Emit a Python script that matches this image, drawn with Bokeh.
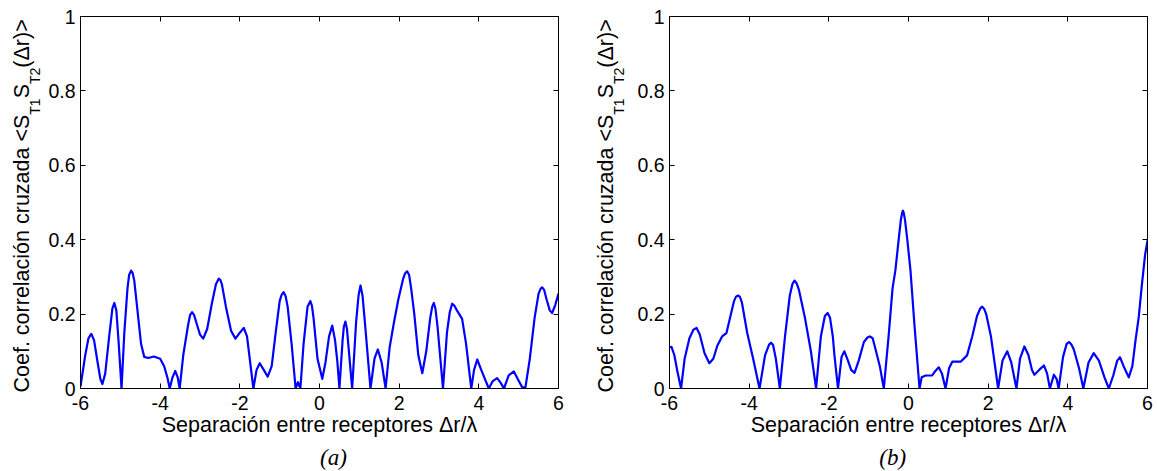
import numpy as np
from bokeh.plotting import figure
from bokeh.layouts import row, column
from bokeh.models import Range1d, FixedTicker, LinearAxis, Label
from bokeh.embed import file_html
from bokeh.resources import INLINE

# ---------------- data ----------------
x_a = [-6.00, -5.88, -5.80, -5.73, -5.66, -5.57, -5.50, -5.45, -5.38, -5.28, -5.20, -5.15, -5.10, -5.04,
       -4.97, -4.90, -4.82, -4.78, -4.73, -4.69, -4.65, -4.57, -4.48, -4.40, -4.30, -4.16, -4.00, -3.90,
       -3.82, -3.76, -3.69, -3.62, -3.56, -3.51, -3.42, -3.30, -3.25, -3.20, -3.15, -3.10, -3.00, -2.92,
       -2.82, -2.70, -2.60, -2.53, -2.49, -2.45, -2.35, -2.22, -2.11, -2.00, -1.90, -1.82, -1.74, -1.66,
       -1.58, -1.50, -1.40, -1.30, -1.20, -1.10, -1.00, -0.95, -0.90, -0.85, -0.80, -0.70, -0.60, -0.54,
       -0.48, -0.40, -0.30, -0.23, -0.19, -0.15, -0.05, 0.07, 0.15, 0.24, 0.32, 0.39, 0.45, 0.50,
       0.58, 0.61, 0.65, 0.69, 0.73, 0.82, 0.92, 0.98, 1.03, 1.08, 1.13, 1.28, 1.38, 1.465, 1.56, 1.66,
       1.76, 1.87, 1.98, 2.10, 2.15, 2.20, 2.25, 2.30, 2.38, 2.48, 2.58, 2.68, 2.78, 2.83, 2.87, 2.91,
       2.96, 3.10, 3.20, 3.27, 3.33, 3.39, 3.45, 3.58, 3.68, 3.81, 3.88, 3.96, 4.06, 4.25, 4.35, 4.46,
       4.55, 4.63, 4.75, 4.88, 4.98, 5.09, 5.17, 5.28, 5.40, 5.50, 5.55, 5.59, 5.64, 5.70, 5.78, 5.84,
       5.92, 6.00]
y_a = [0.005, 0.09, 0.135, 0.147, 0.13, 0.07, 0.025, 0.012, 0.04, 0.14, 0.215, 0.230, 0.21, 0.12,
       0.0, 0.15, 0.27, 0.305, 0.317, 0.31, 0.29, 0.21, 0.12, 0.085, 0.082, 0.086, 0.080, 0.06,
       0.03, 0.0, 0.03, 0.047, 0.03, 0.0, 0.09, 0.17, 0.197, 0.205, 0.198, 0.18, 0.145, 0.134,
       0.16, 0.23, 0.28, 0.295, 0.292, 0.28, 0.22, 0.155, 0.134, 0.15, 0.163, 0.14, 0.07, 0.0,
       0.05, 0.068, 0.05, 0.032, 0.06, 0.15, 0.235, 0.252, 0.259, 0.248, 0.22, 0.12, 0.0, 0.017,
       0.0, 0.12, 0.22, 0.235, 0.222, 0.19, 0.08, 0.026, 0.07, 0.14, 0.169, 0.13, 0.07, 0.0,
       0.13, 0.165, 0.18, 0.16, 0.11, 0.0, 0.18, 0.25, 0.277, 0.25, 0.19, 0.0, 0.08, 0.105, 0.07, 0.0,
       0.11, 0.178, 0.24, 0.295, 0.31, 0.315, 0.305, 0.27, 0.20, 0.09, 0.041, 0.10, 0.19, 0.22, 0.230, 0.215,
       0.17, 0.0, 0.15, 0.205, 0.228, 0.222, 0.21, 0.187, 0.12, 0.0, 0.05, 0.078, 0.05, 0.0, 0.02, 0.028,
       0.015, 0.0, 0.035, 0.046, 0.025, 0.003, 0.003, 0.08, 0.19, 0.255, 0.268, 0.272, 0.265, 0.24, 0.21, 0.203,
       0.225, 0.255]

x_b = [-6.00, -5.95, -5.88, -5.80, -5.71, -5.62, -5.50, -5.40, -5.32, -5.24, -5.12, -5.00, -4.90, -4.80,
       -4.68, -4.57, -4.48, -4.38, -4.33, -4.28, -4.23, -4.18, -4.05, -3.90, -3.74, -3.60, -3.50, -3.45,
       -3.40, -3.33, -3.23, -3.10, -2.98, -2.91, -2.86, -2.81, -2.75, -2.60, -2.45, -2.32, -2.20, -2.10,
       -2.03, -1.97, -1.90, -1.86, -1.77, -1.68, -1.61, -1.52, -1.44, -1.355, -1.25, -1.12, -1.03, -0.97,
       -0.90, -0.85, -0.72, -0.62, -0.50, -0.40, -0.33, -0.24, -0.19, -0.16, -0.14, -0.12, -0.09, -0.03,
       0.05, 0.15, 0.277, 0.33, 0.43, 0.595, 0.68, 0.76, 0.84, 0.93, 1.02, 1.10, 1.31, 1.47, 1.60,
       1.72, 1.80, 1.85, 1.90, 1.95, 2.07, 2.16, 2.25, 2.36, 2.48, 2.58, 2.71, 2.80, 2.91, 3.01, 3.10,
       3.16, 3.28, 3.40, 3.48, 3.55, 3.65, 3.72, 3.77, 3.88, 3.97, 4.03, 4.09, 4.15, 4.28, 4.39, 4.52,
       4.65, 4.78, 4.92, 5.03, 5.14, 5.24, 5.31, 5.40, 5.53, 5.62, 5.70, 5.78, 5.86, 5.94, 6.00]
y_b = [0.111, 0.112, 0.09, 0.045, 0.0, 0.08, 0.135, 0.158, 0.163, 0.145, 0.095, 0.068, 0.08, 0.115,
       0.140, 0.149, 0.19, 0.235, 0.247, 0.25, 0.246, 0.23, 0.15, 0.08, 0.0, 0.09, 0.118, 0.123,
       0.117, 0.08, 0.0, 0.14, 0.25, 0.282, 0.290, 0.283, 0.265, 0.19, 0.10, 0.0, 0.14, 0.195,
       0.203, 0.19, 0.14, 0.09, 0.0, 0.085, 0.100, 0.075, 0.05, 0.042, 0.075, 0.125, 0.137, 0.140,
       0.135, 0.115, 0.06, 0.0, 0.14, 0.27, 0.317, 0.407, 0.455, 0.472, 0.478, 0.472, 0.455, 0.40,
       0.317, 0.17, 0.0, 0.03, 0.035, 0.035, 0.048, 0.057, 0.04, 0.0, 0.055, 0.072, 0.072, 0.089, 0.14,
       0.195, 0.215, 0.220, 0.214, 0.20, 0.14, 0.07, 0.0, 0.075, 0.100, 0.07, 0.0, 0.08, 0.113, 0.09, 0.05,
       0.037, 0.05, 0.062, 0.04, 0.0, 0.037, 0.025, 0.0, 0.085, 0.12, 0.125, 0.118, 0.105, 0.055, 0.0, 0.07,
       0.095, 0.075, 0.03, 0.0, 0.035, 0.075, 0.084, 0.06, 0.030, 0.06, 0.13, 0.192, 0.28, 0.36, 0.398]

x_ticks = [-6, -4, -2, 0, 2, 4, 6]
x_tick_labels = ["-6", "-4", "-2", "0", "2", "4", "6"]
y_ticks = [0, 0.2, 0.4, 0.6, 0.8, 1]
y_tick_labels = ["0", "0.2", "0.4", "0.6", "0.8", "1"]

x_label = "Separación entre receptores Δr/λ"
y_label_parts = ["Coef. correlación cruzada <S", "T1", "S", "T2", "(Δr)>"]
y_label_is_sub = [False, True, False, True, False]
captions = ["(a)", "(b)"]

# ---------------- layout / style constants ----------------
H = 471
FRAME_W, FRAME_H = 478, 372
TOP = 16
PLOT_H = 440
CAP_H = H - PLOT_H
SANS = "Liberation Sans"
SERIF = "Liberation Serif"
TICK_FS = "19.5px"
MAIN_FS = 21.5
SUB_FS = 14.0
CAP_FS = 23
PART_EM = [12.922, 1.167, 0.667, 1.167, 2.251]  # Arial advance widths (em)
SANS_MID = 0.347   # baseline offset below the "middle" anchor (em)
SERIF_MID = 0.3375


def text_fig(width, height):
    f = figure(width=width, height=height, x_range=Range1d(0, width), y_range=Range1d(height, 0),
               x_axis_type=None, y_axis_type=None, min_border=0,
               output_backend="svg", toolbar_location=None)
    f.outline_line_color = None
    f.background_fill_color = "white"
    f.border_fill_color = "white"
    f.grid.visible = False
    return f


def ylabel_fig(width, base_x):
    f = text_fig(width, H)
    ypos = 392.0
    for txt, sub, em in zip(y_label_parts, y_label_is_sub, PART_EM):
        fs = SUB_FS if sub else MAIN_FS
        bx = base_x + (10 if sub else 0)       # baseline position
        f.add_layout(Label(x=bx - SANS_MID * fs, y=ypos, text=txt, angle=np.pi / 2,
                           text_font=SANS, text_font_size=f"{fs}px", text_color="black",
                           text_align="left", text_baseline="middle"))
        ypos -= em * fs
    return f


def caption_fig(width, cap_x, caption):
    f = text_fig(width, CAP_H)
    f.add_layout(Label(x=cap_x, y=465 - PLOT_H - SERIF_MID * CAP_FS, text=caption,
                       text_font=SERIF, text_font_style="italic", text_font_size=f"{CAP_FS}px",
                       text_color="black", text_align="center", text_baseline="middle"))
    return f


def plot_fig(xs, ys, left_border, right_border):
    p = figure(width=left_border + FRAME_W + right_border, height=PLOT_H,
               min_border_left=left_border, min_border_right=right_border,
               min_border_top=TOP, min_border_bottom=PLOT_H - TOP - FRAME_H,
               x_range=Range1d(-6, 6), y_range=Range1d(0, 1),
               output_backend="svg", toolbar_location=None)
    p.xgrid.visible = False
    p.ygrid.visible = False
    p.outline_line_color = "black"
    p.outline_line_width = 1
    p.background_fill_color = "white"
    p.border_fill_color = "white"

    xov = {t: l for t, l in zip(x_ticks, x_tick_labels)}
    yov = {t: l for t, l in zip(y_ticks, y_tick_labels)}
    for ax, ticks, ov in ((p.xaxis[0], x_ticks, xov), (p.yaxis[0], y_ticks, yov)):
        ax.ticker = FixedTicker(ticks=ticks)
        ax.major_label_overrides = ov
        ax.major_tick_in = 5
        ax.major_tick_out = 0
        ax.minor_tick_line_color = None
        ax.major_label_text_font = SANS
        ax.major_label_text_font_size = TICK_FS
        ax.major_label_text_color = "black"
        ax.axis_line_color = "black"
        ax.major_tick_line_color = "black"
    p.xaxis[0].major_label_standoff = 7
    p.yaxis[0].major_label_standoff = 5
    p.xaxis[0].axis_label = x_label
    p.xaxis[0].axis_label_text_font = SANS
    p.xaxis[0].axis_label_text_font_size = f"{MAIN_FS}px"
    p.xaxis[0].axis_label_text_font_style = "normal"
    p.xaxis[0].axis_label_text_color = "black"
    p.xaxis[0].axis_label_standoff = 0

    # mirrored ticks on top and right (box style)
    for loc, ticks in (("above", x_ticks), ("right", y_ticks)):
        ax = LinearAxis(ticker=FixedTicker(ticks=ticks),
                        major_label_overrides={t: "" for t in ticks},
                        major_tick_in=5, major_tick_out=0, minor_tick_line_color=None,
                        major_label_standoff=0, major_label_text_font_size="1px",
                        axis_line_color="black", major_tick_line_color="black")
        p.add_layout(ax, loc)

    p.line(xs, ys, line_color="#0000ff", line_width=2.2, line_join="round")
    return p


# left panel: ylabel strip 0..45, plot 45..578 (frame 80..558)
WL1 = 45
ylab1 = ylabel_fig(WL1, 29)
p1 = plot_fig(x_a, y_a, 80 - WL1, 20)
cap1 = caption_fig(578 - WL1, 327 - WL1, captions[0])

# right panel: ylabel strip 578..630, plot 630..1157 (frame 669..1147)
WL2 = 52
ylab2 = ylabel_fig(WL2, 613 - 578)
p2 = plot_fig(x_b, y_b, 669 - 578 - WL2, 10)
cap2 = caption_fig(1157 - 578 - WL2, 876 - 578 - WL2, captions[1])

layout = row(ylab1, column(p1, cap1), ylab2, column(p2, cap2))
open("out.html", "w").write(file_html(layout, INLINE))
